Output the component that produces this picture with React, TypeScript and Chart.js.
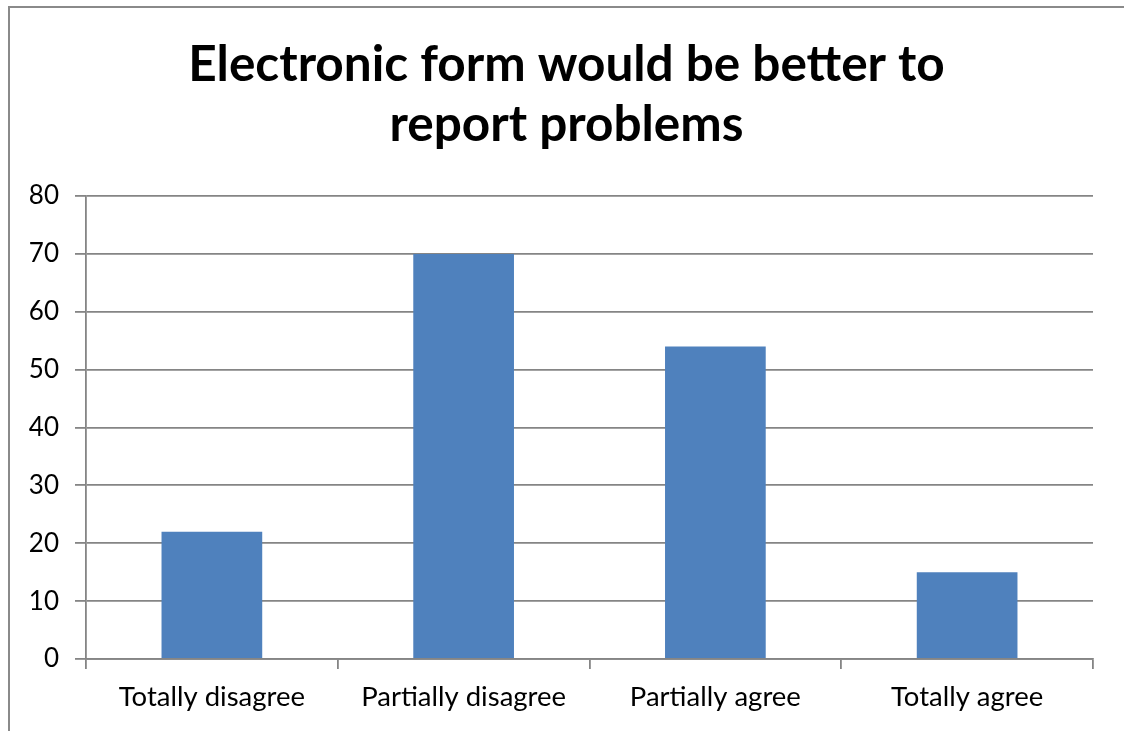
import React, { useEffect, useRef } from "react";
import { Chart, registerables } from "chart.js";

Chart.register(...registerables);

const titleLines = ["Electronic form would be better to", "report problems"];
const categories = ["Totally disagree", "Partially disagree", "Partially agree", "Totally agree"];
const values = [22, 70, 54, 15];
const yMin = 0;
const yMax = 80;
const yStep = 10;

const FONT = "Lato, 'Noto Sans', sans-serif";
const GRID = "#858585";

const frame = {
  id: "frame",
  beforeDraw(chart: any) {
    const ctx = chart.ctx;
    ctx.save();
    ctx.fillStyle = "#ffffff";
    ctx.fillRect(0, 0, chart.width, chart.height);
    ctx.strokeStyle = "#8a8a8a";
    ctx.lineWidth = 2;
    ctx.strokeRect(9, 7, chart.width + 20, chart.height + 20);
    ctx.restore();
  },
};

const centeredTitle = {
  id: "centeredTitle",
  afterDraw(chart: any) {
    const ctx = chart.ctx;
    ctx.save();
    ctx.fillStyle = "#000000";
    ctx.font = `bold 49.5px ${FONT}`;
    ctx.textAlign = "center";
    ctx.textBaseline = "alphabetic";
    const cx = 566.5;
    const baselines = [81, 141];
    titleLines.forEach((line, i) => ctx.fillText(line, cx, baselines[i]));
    ctx.restore();
  },
};

export default function App() {
  const ref = useRef<HTMLCanvasElement | null>(null);
  useEffect(() => {
    if (!ref.current) return;
    const chart = new Chart(ref.current, {
      type: "bar",
      data: {
        labels: categories,
        datasets: [
          {
            data: values,
            backgroundColor: "#4F81BD",
            borderWidth: 0,
            categoryPercentage: 1,
            barPercentage: 0.4,
          },
        ],
      },
      options: {
        animation: false,
        responsive: false,
        layout: { padding: { left: 10, right: 31, top: 196, bottom: 10 } },
        plugins: {
          legend: { display: false },
          tooltip: { enabled: false },
          title: { display: false },
        },
        scales: {
          x: {
            offset: true,
            grid: {
              offset: true,
              drawOnChartArea: false,
              drawTicks: true,
              tickLength: 10,
              color: GRID,
              lineWidth: 1.8,
            },
            border: { display: true, color: GRID, width: 1.8 },
            ticks: { color: "#000000", font: { family: FONT, size: 27.5 }, padding: 12 },
            afterFit: (s: any) => {
              s.height = 62;
            },
          },
          y: {
            min: yMin,
            max: yMax,
            grid: { color: GRID, lineWidth: 1.8, tickLength: 11, drawTicks: true },
            border: { display: true, color: GRID, width: 1.8 },
            ticks: { stepSize: yStep, color: "#000000", font: { family: FONT, size: 26 }, padding: 16 },
            afterFit: (s: any) => {
              s.width = 76;
            },
          },
        },
      },
      plugins: [frame, centeredTitle],
    });
    return () => chart.destroy();
  }, []);
  return (
    <div style={{ position: "fixed", left: 0, top: 0, width: 1124, height: 731, background: "#fff" }}>
      <canvas ref={ref} width={1124} height={731} style={{ display: "block" }} />
    </div>
  );
}
